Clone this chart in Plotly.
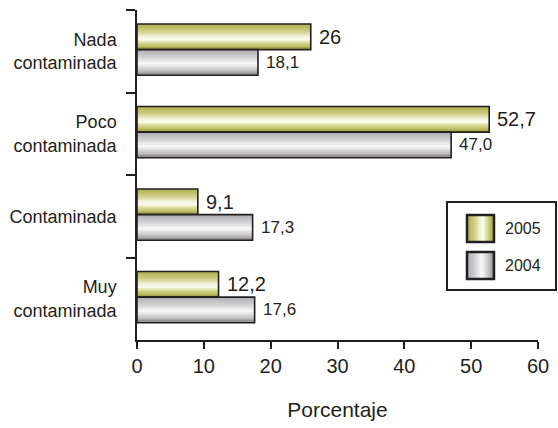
import plotly.graph_objects as go

# ---------------- data ----------------
categories = ["Nada<br>contaminada", "Poco<br>contaminada", "Contaminada", "Muy<br>contaminada"]
series_names = ["2005", "2004"]
values_2005 = [26, 52.7, 9.1, 12.2]
values_2004 = [18.1, 47.0, 17.3, 17.6]
labels_2005 = ["26", "52,7", "9,1", "12,2"]
labels_2004 = ["18,1", "47,0", "17,3", "17,6"]
x_ticks = [0, 10, 20, 30, 40, 50, 60]
x_title = "Porcentaje"

# ---------------- styles ----------------
FONT = "Liberation Sans, Arial, sans-serif"
INK = "#231f20"
W, H = 558, 428
ML, MR, MT, MB = 137, 20, 10, 88
PW, PH = W - ML - MR, H - MT - MB

# gradient profiles (t from top 0 -> bottom 1)
olive_profile = [(0.0, (174, 174, 80)), (0.25, (202, 202, 126)), (0.5, (244, 244, 222)),
                 (0.6, (252, 252, 240)), (0.75, (216, 216, 146)), (1.0, (160, 160, 60))]
gray_profile = [(0.0, (172, 172, 176)), (0.3, (210, 210, 212)), (0.55, (250, 250, 250)),
                (0.8, (198, 198, 198)), (1.0, (138, 138, 138))]


def interp(profile, t):
    for (t0, c0), (t1, c1) in zip(profile[:-1], profile[1:]):
        if t0 <= t <= t1:
            f = (t - t0) / (t1 - t0) if t1 > t0 else 0
            c = [round(a + (b - a) * f) for a, b in zip(c0, c1)]
            return "rgb(%d,%d,%d)" % tuple(c)
    c = profile[-1][1]
    return "rgb(%d,%d,%d)" % tuple(c)


BAR_W = 0.31
series = [
    (values_2005, labels_2005, -0.33, olive_profile, 20),
    (values_2004, labels_2004, -0.02, gray_profile, 17),
]
K = 14

fig = go.Figure()
annotations = []
for vals, labs, off, prof, fsize in series:
    for k in range(K):
        start = off + BAR_W * k / K
        fig.add_trace(go.Bar(
            x=vals, y=categories, orientation="h",
            offset=start, width=off + BAR_W - start,
            marker=dict(color=interp(prof, (k + 0.5) / K), line=dict(width=0)),
            showlegend=False, hoverinfo="skip",
        ))
    fig.add_trace(go.Bar(
        x=vals, y=categories, orientation="h",
        offset=off, width=BAR_W,
        marker=dict(color="rgba(0,0,0,0)", line=dict(width=1.6, color=INK)),
        showlegend=False, hoverinfo="skip",
    ))
    for i, (v, lab) in enumerate(zip(vals, labs)):
        annotations.append(dict(
            x=v, y=i + off + BAR_W / 2, xref="x", yref="y", text=lab,
            showarrow=False, xanchor="left", yanchor="middle", xshift=6,
            font=dict(size=fsize, family=FONT, color=INK),
        ))

# ---------------- custom legend ----------------
def px(x):
    return (x - ML) / PW


def py(y):
    return (H - MB - y) / PH


shapes = []
shapes.append(dict(type="rect", xref="paper", yref="paper",
                   x0=px(447), x1=px(556), y0=py(290), y1=py(202),
                   line=dict(color=INK, width=2), fillcolor="white", layer="above"))
sw_x0, sw_x1 = 467, 494
for (y0, y1), prof, name in [((215, 242), olive_profile, series_names[0]),
                             ((252, 279), gray_profile, series_names[1])]:
    KS = 14
    for k in range(KS):
        xa = sw_x0 + (sw_x1 - sw_x0) * k / KS
        shapes.append(dict(type="rect", xref="paper", yref="paper",
                           x0=px(xa), x1=px(sw_x1), y0=py(y1), y1=py(y0),
                           line=dict(width=0), fillcolor=interp(prof, (k + 0.5) / KS),
                           layer="above"))
    shapes.append(dict(type="rect", xref="paper", yref="paper",
                       x0=px(sw_x0), x1=px(sw_x1), y0=py(y1), y1=py(y0),
                       line=dict(color=INK, width=2.5), fillcolor="rgba(0,0,0,0)",
                       layer="above"))
    annotations.append(dict(x=px(503), y=py((y0 + y1) / 2), xref="paper", yref="paper",
                            text=name, showarrow=False, xanchor="left", yanchor="middle",
                            font=dict(size=16, family=FONT, color=INK)))

fig.update_layout(
    width=W, height=H,
    margin=dict(l=ML, r=MR, t=MT, b=MB, pad=0),
    paper_bgcolor="white", plot_bgcolor="white",
    barmode="overlay",
    font=dict(family=FONT, color=INK),
    showlegend=False,
    shapes=shapes,
    annotations=annotations,
    xaxis=dict(
        range=[0, 60], tickvals=x_ticks, ticktext=[str(t) for t in x_ticks],
        showgrid=False, zeroline=False, showline=True, linecolor=INK, linewidth=1.5,
        ticks="outside", ticklen=7, tickwidth=1.5, tickcolor=INK,
        tickfont=dict(size=20, family=FONT, color=INK),
        title=dict(text=x_title, font=dict(size=21, family=FONT, color=INK), standoff=27),
    ),
    yaxis=dict(
        type="category", categoryorder="array", categoryarray=categories,
        range=[3.5, -0.5],
        showgrid=False, zeroline=False, showline=True, linecolor=INK, linewidth=1.5,
        ticks="outside", tickson="boundaries", ticklen=9, tickwidth=1.5, tickcolor=INK,
        ticklabelstandoff=15,
        tickfont=dict(size=18, family=FONT, color=INK),
    ),
)

fig.write_html(
    "out.html",
    config={"displayModeBar": False},
    post_script="document.body.style.margin='0';document.body.style.padding='0';",
)
